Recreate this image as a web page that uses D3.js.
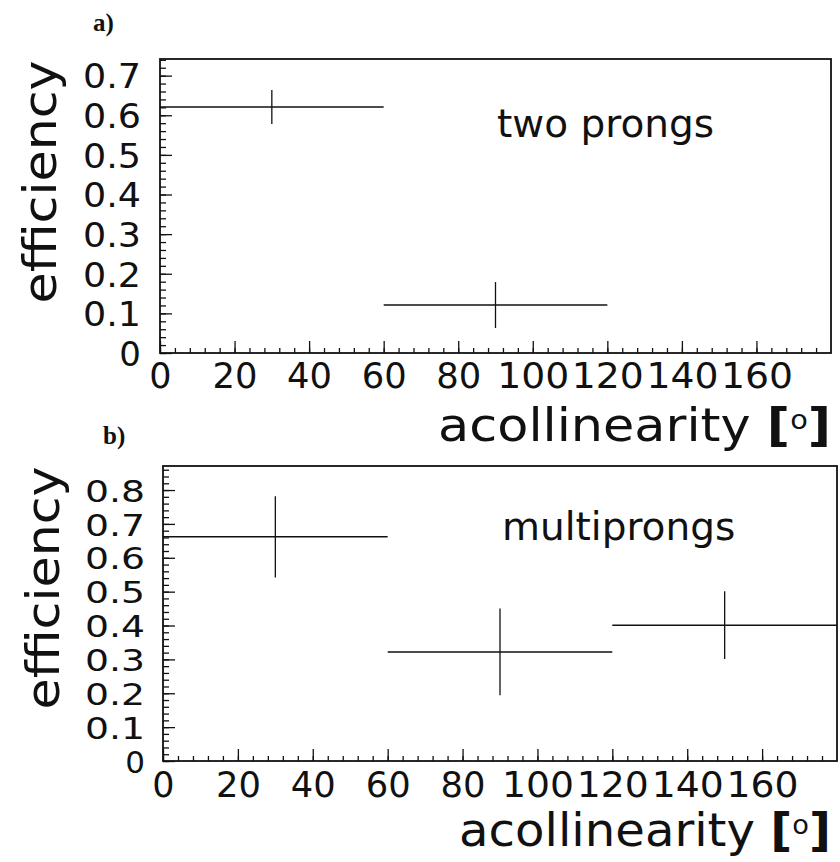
<!DOCTYPE html>
<meta charset="utf-8">
<head>
<style>
  body { margin: 0; background: #fff; }
  text { font-family: "DejaVu Sans", sans-serif; fill: #111; }
</style>
</head>
<body>
<div id="chart"></div>
<script src="https://cdn.jsdelivr.net/npm/d3@7/dist/d3.min.js"></script>
<script>
    // acollinearity bins [deg] and efficiencies
    let twoLo = [0, 60];
    let twoHi = [60, 120];
    let twoEff = [0.621, 0.121];
    let twoErr = [0.043, 0.058];

    let multiLo = [0, 60, 120];
    let multiHi = [60, 120, 180];
    let multiEff = [0.662, 0.322, 0.401];
    let multiErr = [0.12, 0.128, 0.10];

    let xTicks = [0, 20, 40, 60, 80, 100, 120, 140, 160];
    let yTicksA = [0, 0.1, 0.2, 0.3, 0.4, 0.5, 0.6, 0.7];
    let yTicksB = [0, 0.1, 0.2, 0.3, 0.4, 0.5, 0.6, 0.7, 0.8];

    let ink = '#111';
    let svg = d3.select('#chart').append('svg')
                .attr('width', 840)
                .attr('height', 862);

    function stretchTo(sel, width) {
        let w = sel.node().getBBox().width;
        return width / w;
    }

    function drawPanel(p) {
        let x = d3.scaleLinear().domain([0, 180]).range([p.left, p.right]);
        let y = d3.scaleLinear().domain([0, p.yMax]).range([p.bottom, p.top]);
        let g = svg.append('g');

        // minor ticks
        g.append('g')
            .attr('transform', `translate(0, ${p.bottom})`)
            .call(d3.axisBottom(x).tickValues(d3.range(0, 180, 4)).tickSize(-5).tickFormat(''));
        g.append('g')
            .attr('transform', `translate(${p.left}, 0)`)
            .call(d3.axisLeft(y).tickValues(d3.range(0, p.yMax, 0.02)).tickSize(-6).tickFormat(''));

        // major ticks + labels
        let xa = g.append('g')
            .attr('transform', `translate(0, ${p.bottom})`)
            .call(d3.axisBottom(x).tickValues(xTicks).tickSize(-12).tickPadding(p.xPad).tickFormat(d3.format('d')));
        xa.selectAll('text')
            .style('font-size', '35px')
            .attr('fill', ink)
            .attr('textLength', d => d === 0 ? null : (d < 100 ? 45 : 72))
            .attr('lengthAdjust', 'spacingAndGlyphs');

        let ya = g.append('g')
            .attr('transform', `translate(${p.left}, 0)`)
            .call(d3.axisLeft(y).tickValues(p.yTicks).tickSize(-12).tickPadding(p.yPad)
                .tickFormat(d => d === 0 ? '0' : d3.format('.1f')(d)));
        ya.selectAll('text')
            .style('font-size', p.yFont + 'px')
            .attr('fill', ink)
            .attr('dy', '0.36em')
            .attr('textLength', d => d === 0 ? null : p.yLabelW)
            .attr('lengthAdjust', 'spacingAndGlyphs');

        g.selectAll('.domain').remove();
        g.selectAll('.tick line').attr('stroke', ink).attr('stroke-width', 1.3);

        // frame
        g.append('rect')
            .attr('x', p.left).attr('y', p.top)
            .attr('width', p.right - p.left).attr('height', p.bottom - p.top)
            .attr('fill', 'none').attr('stroke', ink).attr('stroke-width', 1.8);

        // error crosses
        let pts = p.eff.map((e, i) => ({lo: p.lo[i], hi: p.hi[i], e: e, err: p.err[i]}));
        g.selectAll('.hbar').data(pts).enter().append('line')
            .attr('x1', d => x(d.lo)).attr('x2', d => x(d.hi))
            .attr('y1', d => y(d.e)).attr('y2', d => y(d.e))
            .attr('stroke', ink).attr('stroke-width', 1.4);
        g.selectAll('.vbar').data(pts).enter().append('line')
            .attr('x1', d => x((d.lo + d.hi) / 2)).attr('x2', d => x((d.lo + d.hi) / 2))
            .attr('y1', d => y(d.e - d.err)).attr('y2', d => y(d.e + d.err))
            .attr('stroke', ink).attr('stroke-width', 1.3);

        // panel tag a) / b)
        g.append('text')
            .attr('x', p.tagX).attr('y', p.tagY)
            .style('font-family', '"Liberation Serif", serif')
            .style('font-weight', 'bold')
            .style('font-size', '25px')
            .text(p.tag);

        // note inside frame
        g.append('text')
            .attr('x', p.noteX).attr('y', p.noteY)
            .style('font-size', '39px')
            .text(p.note);

        // y title
        let yt = g.append('text')
            .attr('text-anchor', 'middle')
            .style('font-size', '46px')
            .text('efficiency');
        let sy = stretchTo(yt, 243);
        yt.attr('transform', `translate(${p.yTitleX}, ${p.yTitleY}) rotate(-90) scale(${sy}, 1)`);

        // x title
        let xt = g.append('text')
            .attr('text-anchor', 'end')
            .style('font-size', '46px');
        xt.append('tspan').text('acollinearity ');
        xt.append('tspan').style('font-weight', 'bold').text('[');
        xt.append('tspan').style('font-size', '26px').attr('dy', -12).text('o');
        xt.append('tspan').style('font-weight', 'bold').attr('dy', 12).text(']');
        let sx = stretchTo(xt, p.xTitleW);
        xt.attr('transform', `translate(${p.xTitleR}, ${p.xTitleY}) scale(${sx}, 1)`);
    }

    drawPanel({
        left: 160, right: 831, top: 59, bottom: 353, yMax: 0.742,
        lo: twoLo, hi: twoHi, eff: twoEff, err: twoErr,
        yTicks: yTicksA, yFont: 34, yLabelW: 58, yPad: 19, xPad: 10,
        tag: 'a)', tagX: 93, tagY: 31,
        note: 'two prongs', noteX: 497, noteY: 137,
        yTitleX: 56, yTitleY: 182,
        xTitleR: 831, xTitleY: 441, xTitleW: 393
    });

    drawPanel({
        left: 163, right: 837, top: 466, bottom: 761, yMax: 0.871,
        lo: multiLo, hi: multiHi, eff: multiEff, err: multiErr,
        yTicks: yTicksB, yFont: 31, yLabelW: 60, yPad: 18, xPad: 11,
        tag: 'b)', tagX: 103, tagY: 444,
        note: 'multiprongs', noteX: 502, noteY: 540,
        yTitleX: 59, yTitleY: 588,
        xTitleR: 831, xTitleY: 846, xTitleW: 372
    });
</script>
</body>
